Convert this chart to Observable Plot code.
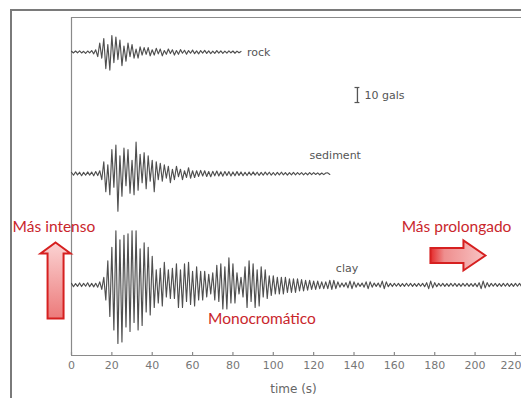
<!DOCTYPE html>
<html>
<head>
<meta charset="utf-8">
<script src="https://cdn.jsdelivr.net/npm/d3@7"></script>
<script src="https://cdn.jsdelivr.net/npm/@observablehq/plot@0.6"></script>
<style>
  html, body { margin: 0; padding: 0; background: #fff; width: 521px; height: 398px; overflow: hidden; }
  #wrap { position: relative; width: 521px; height: 398px; }
  #border { position: absolute; left: 10px; top: 9px; right: -10px; bottom: -10px; border-left: 2px solid #7a7a7a; border-top: 2px solid #7a7a7a; pointer-events: none; }
  #chart { position: absolute; left: 0; top: 0; }
</style>
</head>
<body>
<div id="wrap"><div id="chart"></div><div id="border"></div></div>
<script>
// ---- Data (accelerations in gals, one sample per second) ----
const rock = [0.5,-0.6,0.7,-0.5,0.8,-0.6,0.5,-0.9,0.7,-0.6,
  1.0,-1.2,1.5,-3,6,-4,9,-11,5,-12,
  11,-7,10,-5,8,-9,4,-6,6,-3,
  5,-4,2,-4,3.5,-2,3,-1.5,3,-2.5,
  1.5,-2,2.5,-1.2,2,-2.5,1,-1.5,2,-1,
  1.5,-2,1,-1.5,1.6,-0.8,1.2,-1.4,1,-0.8,
  1.3,-1.1,0.8,-1.2,1,-0.7,1.1,-0.9,0.8,-1,
  0.6,-0.9,1,-0.7,0.8,-0.9,0.6,-0.7,0.8,-0.5,
  0.7,-0.8,0.6,-0.5,0.4];

const sediment = [0.8,-1,1.2,-0.8,1,-1.3,0.9,-1,1.2,-0.9,
  1.1,-1.4,1.5,-1.2,2,-4,8,-12,6,-14,
  16,-9,19,-25,12,-15,17,-8,16,-13,
  9,-14,21,-11,13,-6,14,-10,12,-5,
  9,-12,8,-4,7,-5,6,-3,5,-6,
  3,-4,5,-2,3,-4,2,-2.5,4,-3,
  2,-2.5,2,-1.8,2.2,-1.5,2,-1.8,1.5,-2,
  1.6,-1.4,1.8,-1.5,1.3,-1.6,1.5,-1.2,1.4,-1.5,
  1.2,-1.3,1.4,-1.1,1.2,-1.3,1,-1.2,1.1,-1,
  1.2,-0.9,1,-1.1,0.9,-1,1.1,-0.8,1,-0.9,
  0.8,-1,0.9,-0.8,1,-0.7,0.8,-0.9,0.7,-0.8,
  0.9,-0.7,0.8,-0.6,0.7,-0.8,0.6,-0.7,0.8,-0.6,
  0.7,-0.5,0.6,-0.7,0.5,-0.6,0.5,0.6,-0.5];

const clay = [1,-1.2,0.9,-1,1.3,-1.1,1,-0.9,1.4,-1.2,
  1,-1.3,1.1,-1.5,2,-3,5,-10,16,-21,
  25,-30,36,-39,30,-38,33,-28,34,-31,
  36,-25,36,-30,24,-27,28,-18,25,-20,
  19,-15,10,-12,11,-14,15,-8,10,-9,
  11,-9,14,-15,10,-15,14,-11,15,-13,
  9,-14,12,-10,9,-10,9,-8,7,-6,
  8,-10,13,-11,14,-16,12,-16,18,-12,
  14,-12,8,-6,5,-8,12,-15,16,-11,
  14,-15,10,-14,12,-8,10,-9,6,-7,
  6,-6,5,-6,5,-6,5,-5,4,-5,
  4,-5,4,-4,3.5,-4,3,-3.5,3,-3,
  2.5,-3,2.5,-2.5,2,-2.5,2,-2.5,3,-3,
  3,-2.5,2,-1.5,1.2,-1.3,1.5,-2,2.5,-2.5,
  2,-1.5,1.2,-1,1.2,-1.5,2,-2.5,2,-1.5,
  1.2,-1,1.2,-1.5,2.5,-2.5,2,-1.2,1,-1.1,
  1,-0.9,1,-1,0.9,-1,1.1,-0.9,1,-1,
  0.9,-1,1,-0.9,1,-1.2,1.5,-2.5,2.5,-2,
  1.5,-1.2,1,-0.9,1,-1,0.9,-1,1,-0.9,
  1,-1,0.9,-1,1,-0.9,1,-1,0.9,-1,
  1,-1.2,1.5,-2.5,2.5,-2,1.5,-1.2,1,-0.9,
  1,-1,0.9,-1,1,-0.9,1,-1,0.9,-1,
  1,-0.9,1,-1];

const seriesNames = ["rock", "sediment", "clay"];
const seriesValues = [rock, sediment, clay];
const seriesBaseline = [202, 121, 47];          // vertical offset of each trace (gals)
const seriesLabels = ["rock", "sediment", "clay"];
const seriesLabelX = [87, 118, 131];
const seriesLabelY = [202, 133, 58];

const xTicks = [0, 20, 40, 60, 80, 100, 120, 140, 160, 180, 200, 220];
const xLabel = "time (s)";

const redTexts = ["Más intenso", "Más prolongado", "Monocromático"];
const redTextX = [-8.7, 190.8, 94.4];
const redTextY = [85.2, 85.2, 24.6];

const arrowKinds = ["up", "right"];
const arrowX = [-7.9, 191.5];
const arrowY = [49.9, 66.6];

const scaleBarX = 141.7, scaleBarY0 = 168.4, scaleBarGals = 10;
const scaleLabel = "10 gals";

// ---- Build table ----
const traces = seriesNames.flatMap((name, k) =>
  seriesValues[k].map((v, i) => ({ t: i, v: seriesBaseline[k] + v, series: name }))
);

// custom block-arrow symbols
const upArrow = {
  draw(ctx) {
    ctx.moveTo(0, -38); ctx.lineTo(15, -27); ctx.lineTo(8, -27); ctx.lineTo(8, 38);
    ctx.lineTo(-8, 38); ctx.lineTo(-8, -27); ctx.lineTo(-15, -27); ctx.closePath();
  }
};
const rightArrow = {
  draw(ctx) {
    ctx.moveTo(27.5, 0); ctx.lineTo(5.5, -15); ctx.lineTo(5.5, -7.5); ctx.lineTo(-27.5, -7.5);
    ctx.lineTo(-27.5, 7.5); ctx.lineTo(5.5, 7.5); ctx.lineTo(5.5, 15); ctx.closePath();
  }
};

const red = "#c9262c";
const ink = "#404040";
const axisGray = "#8a8a8a";
const textGray = "#555";

const lastTick = xTicks[xTicks.length - 1];

const chart = Plot.plot({
  width: 521,
  height: 398,
  marginLeft: 71,
  marginRight: 0,
  marginTop: 17,
  marginBottom: 43,
  style: { fontFamily: "'DejaVu Sans', sans-serif", background: "transparent", overflow: "visible" },
  x: { domain: [0, 223], axis: null },
  y: { domain: [0, 225], axis: null },
  marks: [
    // frame lines
    Plot.ruleY([225], { stroke: axisGray, strokeWidth: 1 }),
    Plot.ruleY([0], { stroke: axisGray, strokeWidth: 1.2 }),
    Plot.ruleX([0], { stroke: axisGray, strokeWidth: 1.2 }),
    // inward tick marks
    Plot.ruleX(xTicks, { y1: 0, y2: 2, stroke: axisGray, strokeWidth: 1.2 }),
    // tick labels
    Plot.text(xTicks.filter(d => d !== lastTick), { x: d => d, y: 0, dy: 10, lineAnchor: "middle", fontSize: 11, fill: "#777" }),
    Plot.text([lastTick], { x: d => d, y: 0, dy: 10, dx: 6, textAnchor: "end", lineAnchor: "middle", fontSize: 11, fill: "#777" }),
    Plot.text([xLabel], { x: 110, y: 0, dy: 34, lineAnchor: "middle", fontSize: 12, fill: "#666" }),
    // seismograms
    Plot.line(traces, { x: "t", y: "v", z: "series", stroke: ink, strokeWidth: 1.15, strokeOpacity: 0.92 }),
    // trace labels
    Plot.text(seriesLabels, { x: (d, i) => seriesLabelX[i], y: (d, i) => seriesLabelY[i], text: d => d,
      textAnchor: "start", fontSize: 11, fill: textGray }),
    // scale bar
    Plot.ruleX([scaleBarX], { y1: scaleBarY0, y2: scaleBarY0 + scaleBarGals, stroke: "#555", strokeWidth: 1.3 }),
    Plot.ruleY([scaleBarY0, scaleBarY0 + scaleBarGals], { x1: scaleBarX - 1.2, x2: scaleBarX + 1.2, stroke: "#555", strokeWidth: 1.2 }),
    Plot.text([scaleLabel], { x: scaleBarX + 3.5, y: scaleBarY0 + scaleBarGals / 2, textAnchor: "start", fontSize: 11, fill: textGray }),
    // red annotations
    Plot.text(redTexts, { x: (d, i) => redTextX[i], y: (d, i) => redTextY[i], text: d => d,
      fontSize: 15.5, fill: red, fontFamily: "Lato, sans-serif" }),
    Plot.dot(arrowKinds, { x: (d, i) => arrowX[i], y: (d, i) => arrowY[i],
      symbol: d => d === "up" ? upArrow : rightArrow,
      r: 10, fill: d => d === "up" ? "url(#gradUp)" : "url(#gradRight)", stroke: "#d62020", strokeWidth: 2 })
  ]
});

// gradients for arrow fills
const defs = d3.select(chart).insert("defs", ":first-child");
const gUp = defs.append("linearGradient").attr("id", "gradUp").attr("x1", 0).attr("y1", 0).attr("x2", 0).attr("y2", 1);
gUp.append("stop").attr("offset", "0%").attr("stop-color", "#fbd3d3");
gUp.append("stop").attr("offset", "100%").attr("stop-color", "#ec7a7a");
const gR = defs.append("linearGradient").attr("id", "gradRight").attr("x1", 0).attr("y1", 0).attr("x2", 1).attr("y2", 0);
gR.append("stop").attr("offset", "0%").attr("stop-color", "#e42a2a");
gR.append("stop").attr("offset", "25%").attr("stop-color", "#ee8e8e");
gR.append("stop").attr("offset", "100%").attr("stop-color", "#f8c4c4");

document.getElementById("chart").appendChild(chart);
</script>
</body>
</html>
